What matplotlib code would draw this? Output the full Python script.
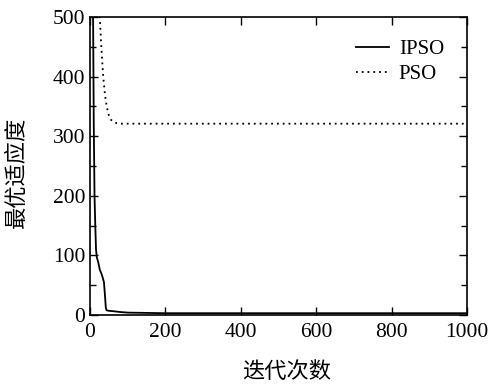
import matplotlib
matplotlib.use('Agg')
import matplotlib.pyplot as plt
from matplotlib.ticker import MultipleLocator

# Data
ipso_iter = [0, 5, 8, 10, 12, 14, 16, 18, 22, 26, 30, 34, 37, 40, 42, 44, 50, 60, 80, 100, 150, 200, 400, 600, 800, 1000]
ipso_val = [2000, 900, 520, 320, 200, 150, 110, 97, 88, 76, 70, 62, 55, 30, 12, 8, 7, 6.5, 5, 4, 3.5, 3, 3, 3, 3, 3]

pso_iter = [0, 10, 20, 26, 30, 35, 40, 45, 50, 55, 60, 70, 80, 100, 200, 400, 600, 800, 1000]
pso_val = [1500, 900, 650, 500, 450, 400, 368, 348, 335, 328, 325, 322, 321, 321, 321, 321, 321, 321, 321]

x_ticks = [0, 200, 400, 600, 800, 1000]
y_ticks = [0, 100, 200, 300, 400, 500]

plt.rcParams['font.family'] = ['Liberation Serif', 'Noto Sans CJK SC']
plt.rcParams['font.size'] = 15

fig = plt.figure(figsize=(4.89, 3.85), dpi=100)
ax = fig.add_axes([90 / 489, 70 / 385, 377 / 489, 298 / 385])

ax.plot(ipso_iter, ipso_val, color='black', lw=1.3, label='IPSO')
ax.plot(pso_iter, pso_val, color='black', lw=1.3, linestyle=(0, (1, 2.2)), label='PSO')

ax.set_xlim(0, 1000)
ax.set_ylim(0, 500)
ax.set_xticks(x_ticks)
ax.set_yticks(y_ticks)
ax.yaxis.set_minor_locator(MultipleLocator(50))
ax.tick_params(which='both', direction='in', top=True, right=True, labelsize=15.5, width=1.0)
ax.tick_params(which='major', length=6)
ax.tick_params(which='minor', length=4)
ax.tick_params(axis='x', pad=6)
for s in ax.spines.values():
    s.set_linewidth(1.2)

ax.set_xlabel('迭代次数', family=['Noto Sans CJK SC'], fontsize=16, va='center')
ax.set_ylabel('最优适应度', family=['Noto Sans CJK SC'], fontsize=16, va='center')
ax.xaxis.set_label_coords(0.523, -0.188)
ax.yaxis.set_label_coords(-0.196, 0.48)

leg = ax.legend(loc='upper right', frameon=False, fontsize=15, handlelength=1.6,
                handletextpad=0.45, labelspacing=0.25, borderaxespad=0.7)

fig.savefig('out.png', dpi=100)
